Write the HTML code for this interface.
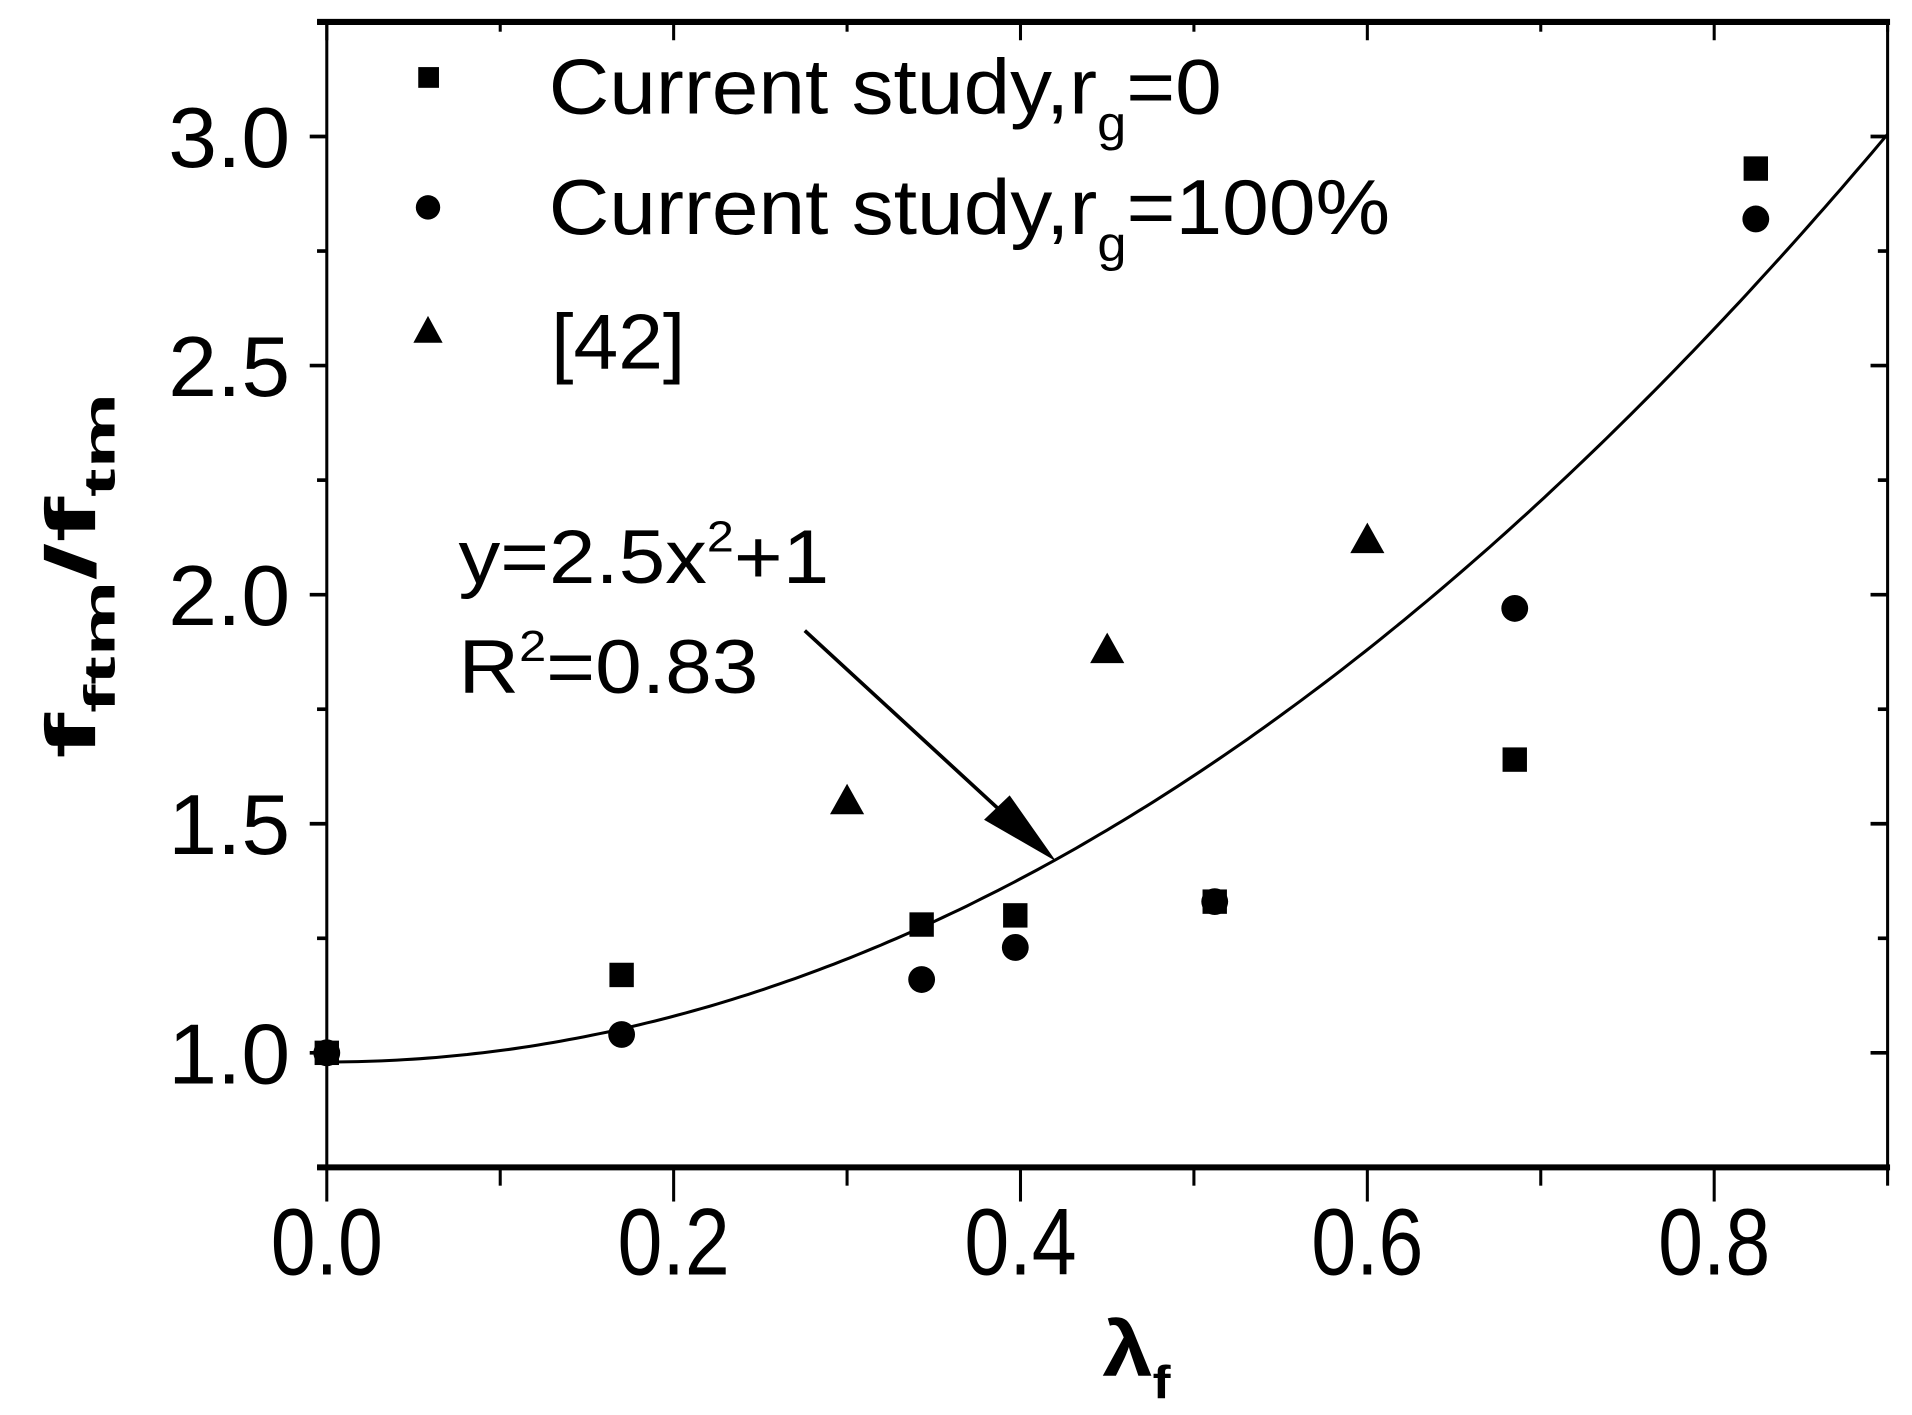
<!DOCTYPE html>
<html><head><meta charset="utf-8"><style>
html,body{margin:0;padding:0;background:#fff;}
svg{display:block;}
text{font-family:"Liberation Sans",sans-serif;fill:#000;}
</style></head><body>
<svg id="chart" width="1912" height="1415" viewBox="0 0 1568 1160" preserveAspectRatio="none" xmlns="http://www.w3.org/2000/svg">
<g id="axes"></g>
<g id="marks"></g>
<g>
  <rect x="343" y="55" width="17" height="17"/>
  <text x="450" y="93" font-size="64" textLength="552" lengthAdjust="spacingAndGlyphs">Current study,r<tspan font-size="40" dy="22">g</tspan><tspan dy="-22">=0</tspan></text>
  <circle cx="351" cy="170" r="10"/>
  <text x="450" y="192" font-size="64" textLength="690" lengthAdjust="spacingAndGlyphs">Current study,r<tspan font-size="40" dy="22">g</tspan><tspan dy="-22">=100%</tspan></text>
  <polygon points="351,259 339,281 363,281"/>
  <text x="452" y="302" font-size="64" textLength="110" lengthAdjust="spacingAndGlyphs">[42]</text>
</g>
<g>
  <text x="376" y="478" font-size="62" textLength="304" lengthAdjust="spacingAndGlyphs">y=2.5x<tspan font-size="36" dy="-26">2</tspan><tspan dy="26">+1</tspan></text>
  <text x="376" y="568" font-size="62" textLength="246" lengthAdjust="spacingAndGlyphs">R<tspan font-size="36" dy="-26">2</tspan><tspan dy="26">=0.83</tspan></text>
  <line x1="660" y1="517" x2="835" y2="678" stroke="#000" stroke-width="3"/>
  <polygon points="866,706 807,672 828,652"/>
</g>
<text x="904" y="1128" font-size="64" font-weight="bold" textLength="56" lengthAdjust="spacingAndGlyphs">λ<tspan font-size="38" dy="18">f</tspan></text>
<text transform="translate(78,472) rotate(-90)" font-size="58" font-weight="bold" text-anchor="middle" textLength="300" lengthAdjust="spacingAndGlyphs">f<tspan font-size="36" dy="16">ftm</tspan><tspan dy="-16">/f</tspan><tspan font-size="36" dy="16">tm</tspan></text>
</svg>
<script>
const xTicks=[0,0.2,0.4,0.6,0.8];
const yTicks=[1.0,1.5,2.0,2.5,3.0];
const xSquares=[0,0.17,0.343,0.397,0.512,0.685,0.824];
const ySquares=[1.0,1.17,1.28,1.30,1.33,1.64,2.93];
const xCircles=[0,0.17,0.343,0.397,0.512,0.685,0.824];
const yCircles=[1.0,1.04,1.16,1.23,1.33,1.97,2.82];
const xTriangles=[0.3,0.45,0.6];
const yTriangles=[1.55,1.88,2.12];
const fitA=2.5, fitB=0.98;
const X0=268,X1=1548,Y0=957,Y1=18,xmin=0,xmax=0.9,ymin=0.75,ymax=3.25;
const sx=v=>X0+(v-xmin)/(xmax-xmin)*(X1-X0);
const sy=v=>Y0-(v-ymin)/(ymax-ymin)*(Y0-Y1);
const NS="http://www.w3.org/2000/svg";
const axes=document.getElementById('axes'),marks=document.getElementById('marks');
function mk(tag,attrs,parent){const e=document.createElementNS(NS,tag);for(const k in attrs)e.setAttribute(k,attrs[k]);parent.appendChild(e);return e;}
let e;
e=mk('rect',{x:X0,y:Y1,width:X1-X0,height:Y0-Y1,fill:'none',stroke:'#000','stroke-width':2.5},axes);


e=mk('line',{x1:X0-8,y1:Y0,x2:X1+2,y2:Y0,stroke:'#000','stroke-width':5},axes);


e=mk('line',{x1:X0-8,y1:Y1,x2:X1+2,y2:Y1,stroke:'#000','stroke-width':5},axes);


for(let i=0;i<=9;i++){const v=i*0.1,x=sx(v),major=i%2===0;
 e=mk('line',{x1:x,y1:Y0,x2:x,y2:Y0+(major?28:15),stroke:'#000','stroke-width':2.5},axes);
 
 
 e=mk('line',{x1:x,y1:Y1,x2:x,y2:Y1+(major?15:8),stroke:'#000','stroke-width':2.5},axes);
 
 }
xTicks.forEach(v=>{e=mk('text',{x:sx(v),y:1045,'font-size':78,'text-anchor':'middle',textLength:92,lengthAdjust:'spacingAndGlyphs'},axes);e.textContent=v.toFixed(1);
 
 });
for(let i=0;i<5;i++){const v=1.0+i*0.5;[v,v+0.25].forEach((t,j)=>{if(t>3.25)return;const y=sy(t);
 e=mk('line',{x1:X0-(j?8:14),y1:y,x2:X0,y2:y,stroke:'#000','stroke-width':3},axes);
 
 
 e=mk('line',{x1:X1,y1:y,x2:X1-(j?8:14),y2:y,stroke:'#000','stroke-width':3},axes);
 
 });}
e=mk('line',{x1:X0-8,y1:sy(0.75),x2:X0,y2:sy(0.75),stroke:'#000','stroke-width':3},axes);


yTicks.forEach(v=>{e=mk('text',{x:238,y:sy(v)+25,'font-size':70,'text-anchor':'end',textLength:100,lengthAdjust:'spacingAndGlyphs'},axes);e.textContent=v.toFixed(1);
 
 });
let d='';for(let i=0;i<=200;i++){const v=xmin+(xmax-xmin)*i/200;d+=(i?'L':'M')+sx(v).toFixed(1)+','+sy(fitA*v*v+fitB).toFixed(1);}
e=mk('path',{d:d,fill:'none',stroke:'#000','stroke-width':2.5},marks);


xSquares.forEach((v,i)=>{e=mk('rect',{x:sx(v)-10,y:sy(ySquares[i])-10,width:20,height:20},marks);
 
 });
xCircles.forEach((v,i)=>{e=mk('circle',{cx:sx(v),cy:sy(yCircles[i]),r:11},marks);
 
 });
xTriangles.forEach((v,i)=>{const x=sx(v),y=sy(yTriangles[i]);e=mk('polygon',{points:`${x},${y-14} ${x-14},${y+11} ${x+14},${y+11}`},marks);
 
 });
</script>
</body></html>
